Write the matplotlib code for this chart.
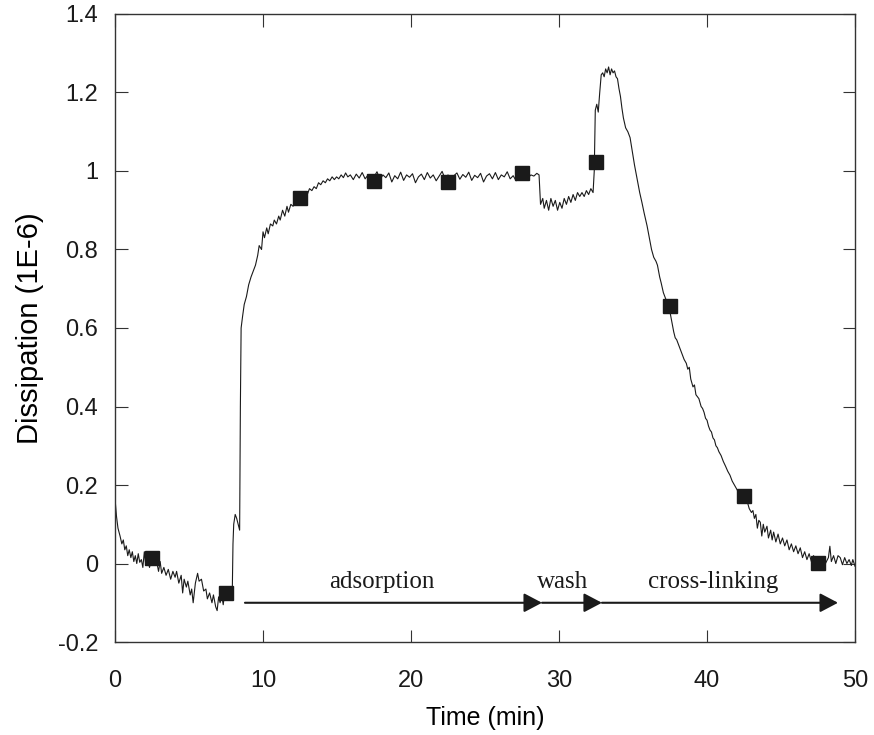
import matplotlib

matplotlib.use("Agg")
import matplotlib.pyplot as plt
from matplotlib.ticker import FormatStrFormatter

plt.rcParams.update({
    "font.family": ["Liberation Sans", "DejaVu Sans"],
    "axes.unicode_minus": False,
})

# QCM dissipation trace, (time [min], dissipation [1E-6])
baseline_pts = [
    (0.0, 0.165), (0.1, 0.12), (0.2, 0.09), (0.34, 0.07), (0.46, 0.05), (0.56, 0.06),
    (0.66, 0.035), (0.76, 0.045), (0.86, 0.02), (0.96, 0.035), (1.07, 0.015), (1.17, 0.03),
    (1.27, 0.005), (1.37, 0.02), (1.47, 0.0), (1.57, 0.025), (1.67, 0.003), (1.78, 0.01),
    (1.88, -0.01), (1.98, 0.03), (2.08, -0.005), (2.18, 0.02), (2.33, -0.01), (2.49, 0.015),
    (2.64, -0.005), (2.79, 0.01), (2.94, -0.02), (3.05, 0.005), (3.15, -0.025), (3.3, -0.01),
    (3.45, -0.03), (3.6, -0.015), (3.76, -0.04), (3.91, -0.02), (4.06, -0.035), (4.16, -0.02),
    (4.31, -0.05), (4.47, -0.03), (4.57, -0.075), (4.67, -0.04), (4.82, -0.06), (4.92, -0.045),
    (5.08, -0.08), (5.18, -0.065), (5.28, -0.1), (5.43, -0.05), (5.58, -0.025), (5.68, -0.045),
    (5.84, -0.04), (5.99, -0.07), (6.14, -0.065), (6.24, -0.09), (6.39, -0.075), (6.55, -0.1),
    (6.65, -0.08), (6.8, -0.11), (6.9, -0.12), (7.0, -0.085), (7.1, -0.1), (7.21, -0.08),
    (7.31, -0.105), (7.41, -0.075), (7.56, -0.09), (7.67, -0.07), (7.81, -0.085), (7.92, -0.08),
    (7.97, 0.05), (8.02, 0.1), (8.12, 0.125), (8.22, 0.115), (8.32, 0.1), (8.42, 0.085),
]

adsorption_pts = [
    (8.47, 0.4), (8.52, 0.6), (8.62, 0.63), (8.73, 0.66), (8.88, 0.68), (9.03, 0.71),
    (9.19, 0.73), (9.34, 0.745), (9.49, 0.76), (9.64, 0.785), (9.74, 0.81), (9.9, 0.8),
    (10.0, 0.845), (10.1, 0.83), (10.25, 0.855), (10.35, 0.84), (10.5, 0.865), (10.66, 0.86),
    (10.76, 0.875), (10.91, 0.865), (11.06, 0.885), (11.16, 0.875), (11.32, 0.9), (11.47, 0.885),
    (11.62, 0.91), (11.72, 0.895), (11.88, 0.915), (12.03, 0.91), (12.18, 0.925), (12.33, 0.92),
    (12.48, 0.935), (12.69, 0.93), (12.84, 0.945), (12.99, 0.94), (13.14, 0.955), (13.3, 0.95),
    (13.45, 0.96), (13.6, 0.955), (13.75, 0.97), (13.9, 0.965), (14.06, 0.975), (14.21, 0.97),
    (14.36, 0.98), (14.51, 0.975), (14.67, 0.985), (14.82, 0.978), (14.97, 0.985), (15.12, 0.98),
    (15.28, 0.99), (15.43, 0.983), (15.58, 0.995), (15.73, 0.985),
    (15.9, 0.99), (16.1, 0.978), (16.3, 0.992), (16.5, 0.982), (16.7, 0.996), (16.9, 0.98),
    (17.1, 0.99), (17.3, 0.975), (17.5, 0.985), (17.7, 0.998), (17.9, 0.978), (18.1, 0.99),
    (18.3, 0.983), (18.5, 0.995), (18.7, 0.972), (18.9, 0.988), (19.1, 0.98), (19.3, 0.997),
    (19.5, 0.976), (19.7, 0.99), (19.9, 0.984), (20.1, 0.993), (20.3, 0.97), (20.5, 0.985),
    (20.7, 0.992), (20.9, 0.978), (21.1, 0.996), (21.3, 0.982), (21.5, 0.99), (21.7, 0.975),
    (21.9, 0.987), (22.1, 0.999), (22.3, 0.98), (22.5, 0.99), (22.7, 0.973), (22.9, 0.988),
    (23.1, 0.995), (23.3, 0.979), (23.5, 0.991), (23.7, 0.984), (23.9, 0.997), (24.1, 0.976),
    (24.3, 0.989), (24.5, 0.983), (24.7, 0.994), (24.9, 0.972), (25.1, 0.987), (25.3, 0.993),
    (25.5, 0.98), (25.7, 0.996), (25.9, 0.978), (26.1, 0.99), (26.3, 0.985), (26.5, 0.998),
    (26.7, 0.98), (26.9, 0.988), (27.1, 0.975), (27.3, 0.992), (27.5, 0.984), (27.7, 0.996),
    (27.9, 0.982), (28.1, 0.99), (28.3, 0.987), (28.5, 0.994), (28.65, 0.99),
]

wash_pts = [
    (28.75, 0.915), (28.9, 0.93), (29.0, 0.905), (29.15, 0.925), (29.3, 0.9), (29.45, 0.93),
    (29.6, 0.91), (29.75, 0.925), (29.9, 0.9), (30.05, 0.92), (30.2, 0.905), (30.35, 0.93),
    (30.5, 0.915), (30.65, 0.935), (30.8, 0.92), (30.95, 0.94), (31.1, 0.925), (31.25, 0.945),
    (31.4, 0.935), (31.55, 0.945), (31.7, 0.935), (31.85, 0.95), (32.0, 0.94), (32.15, 0.955),
    (32.3, 0.945),
]

crosslink_pts = [
    (32.38, 1.0), (32.45, 1.155), (32.55, 1.17), (32.65, 1.15), (32.75, 1.2), (32.85, 1.245),
    (32.95, 1.25), (33.05, 1.24), (33.15, 1.26), (33.25, 1.25), (33.35, 1.265), (33.45, 1.245),
    (33.55, 1.26), (33.65, 1.25), (33.75, 1.255), (33.85, 1.24), (33.95, 1.235), (34.05, 1.21),
    (34.15, 1.19), (34.25, 1.16), (34.35, 1.135), (34.5, 1.11), (34.65, 1.1), (34.8, 1.085),
    (34.95, 1.05), (35.1, 1.015), (35.25, 0.985), (35.45, 0.945), (35.6, 0.92), (35.75, 0.893),
    (35.95, 0.86), (36.1, 0.83), (36.25, 0.8), (36.4, 0.78), (36.55, 0.77), (36.65, 0.76),
    (36.8, 0.73), (36.9, 0.715), (37.05, 0.69), (37.15, 0.68), (37.3, 0.665), (37.45, 0.65),
    (37.55, 0.63), (37.65, 0.61), (37.75, 0.59), (37.85, 0.575), (37.95, 0.57), (38.05, 0.56),
    (38.2, 0.545), (38.35, 0.53), (38.45, 0.52), (38.6, 0.51), (38.7, 0.495), (38.8, 0.5),
    (38.9, 0.47), (39.05, 0.45), (39.15, 0.455), (39.25, 0.43), (39.35, 0.425), (39.45, 0.42),
    (39.6, 0.4), (39.7, 0.395), (39.8, 0.385), (39.9, 0.37), (40.0, 0.365), (40.1, 0.35),
    (40.2, 0.34), (40.3, 0.335), (40.4, 0.32), (40.5, 0.315), (40.6, 0.3), (40.7, 0.295),
    (40.8, 0.285), (40.95, 0.275), (41.1, 0.26), (41.25, 0.248), (41.4, 0.235), (41.55, 0.225),
    (41.7, 0.21), (41.85, 0.2), (42.0, 0.19), (42.15, 0.18), (42.3, 0.175), (42.45, 0.17),
    (42.6, 0.155), (42.7, 0.16), (42.85, 0.14), (43.0, 0.13), (43.1, 0.135), (43.2, 0.115),
    (43.3, 0.125), (43.4, 0.09), (43.5, 0.11), (43.6, 0.105), (43.7, 0.07), (43.8, 0.1),
    (43.9, 0.08), (44.05, 0.095), (44.15, 0.065), (44.3, 0.085), (44.4, 0.06), (44.5, 0.08),
    (44.65, 0.055), (44.8, 0.075), (44.95, 0.05), (45.1, 0.065), (45.25, 0.045), (45.4, 0.06),
    (45.55, 0.035), (45.7, 0.05), (45.85, 0.03), (46.0, 0.045), (46.15, 0.025), (46.3, 0.04),
    (46.45, 0.015), (46.6, 0.03), (46.75, 0.01), (46.9, 0.025), (47.05, 0.005), (47.2, 0.02),
    (47.35, 0.0), (47.5, 0.015), (47.65, -0.005), (47.8, 0.01), (48.0, 0.0), (48.2, 0.015),
    (48.3, 0.044), (48.4, 0.005), (48.55, 0.02), (48.7, 0.0), (48.85, 0.02), (49.0, 0.015),
    (49.15, -0.003), (49.3, 0.015), (49.45, 0.0), (49.6, 0.01), (49.75, -0.005), (49.85, 0.01),
    (50.0, -0.007),
]

# square symbols laid over the trace
marker_t = [2.5, 7.5, 12.5, 17.5, 22.5, 27.5, 32.5, 37.5, 42.5, 47.5]
marker_d = [0.015, -0.075, 0.93, 0.975, 0.972, 0.995, 1.023, 0.655, 0.173, 0.001]

# phase arrows (start, end) and their labels
phase_names = ["adsorption", "wash", "cross-linking"]
phase_spans = [(8.78, 28.85), (28.85, 32.9), (32.9, 48.85)]
phase_label_x = [18.04, 30.27, 40.4]
arrow_y = -0.1
label_y = -0.048

trace = baseline_pts + adsorption_pts + wash_pts + crosslink_pts
t, d = zip(*trace)

fig = plt.figure(figsize=(8.74, 7.35), dpi=100)
ax = fig.add_axes([0.1316, 0.1265, 0.8467, 0.8545])

ax.plot(t, d, color="#1a1a1a", lw=0.8)
ax.plot(marker_t, marker_d, ls="none", marker="s", ms=10, color="#1a1a1a")

for (x0, x1), name, lx in zip(phase_spans, phase_names, phase_label_x):
    ax.annotate("", xy=(x1, arrow_y), xytext=(x0, arrow_y),
                arrowprops=dict(arrowstyle="-|>,head_length=0.55,head_width=0.29",
                                mutation_scale=20, lw=1.5, color="#1a1a1a",
                                shrinkA=0, shrinkB=0))
    ax.text(lx, label_y, name, ha="center", va="center", fontsize=18,
            family=["Liberation Serif", "DejaVu Serif"], color="#1a1a1a")

ax.set_xlim(0, 50)
ax.set_ylim(-0.2, 1.4)
ax.set_xticks([0, 10, 20, 30, 40, 50])
ax.set_yticks([-0.2, 0, 0.2, 0.4, 0.6, 0.8, 1.0, 1.2, 1.4])
ax.yaxis.set_major_formatter(FormatStrFormatter("%g"))
ax.tick_params(direction="in", length=9, width=0.8, color="#333333",
               top=True, right=True, labelsize=17, colors="#1a1a1a")
ax.tick_params(axis="x", pad=20)
ax.tick_params(axis="y", pad=12)
for sp in ax.spines.values():
    sp.set_linewidth(1.0)
    sp.set_color("#333333")

ax.set_xlabel("Time (min)", fontsize=18, labelpad=10)
ax.set_ylabel("Dissipation (1E-6)", fontsize=21, labelpad=10)

fig.savefig("out.png", dpi=100)
